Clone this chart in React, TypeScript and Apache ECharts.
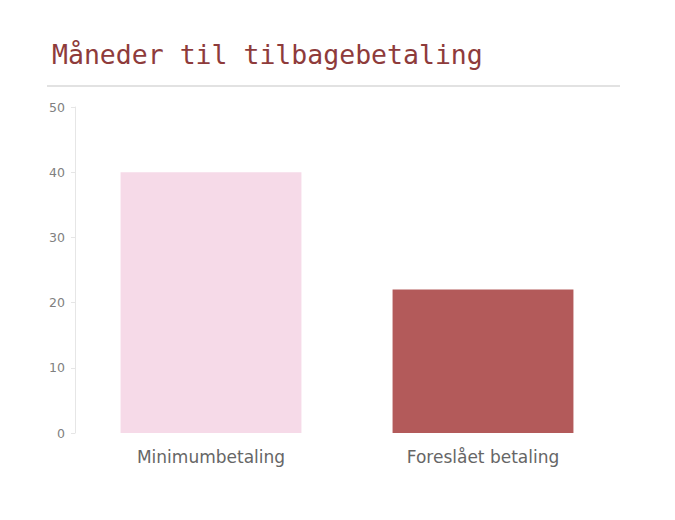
import * as echarts from 'echarts';
import { useEffect, useRef } from 'react';

const categories = ['Minimumbetaling', 'Foreslået betaling'];
const months = [40, 22];
const barColors = ['#F6DAE8', '#B35A5A'];
const yTicks = { min: 0, max: 50, interval: 10 };

export default function App() {
  const chartRef = useRef<HTMLDivElement>(null);

  useEffect(() => {
    if (!chartRef.current) return;
    const chart = echarts.init(chartRef.current, undefined, { renderer: 'svg' });

    chart.setOption({
      animation: false,
      backgroundColor: '#ffffff',
      title: {
        text: 'Måneder til tilbagebetaling',
        left: 47,
        top: 36,
        textStyle: {
          fontFamily: '"DejaVu Sans Mono", "Liberation Mono", monospace',
          fontSize: 26.5,
          fontWeight: 'normal',
          color: '#8E3B3B',
        },
      },
      graphic: [
        {
          type: 'line',
          shape: { x1: 47, y1: 86, x2: 620, y2: 86 },
          style: { stroke: '#D9D9D9', lineWidth: 1.5 },
        },
      ],
      grid: { left: 75, right: 56, top: 107, bottom: 87, containLabel: false },
      xAxis: {
        type: 'category',
        data: categories,
        axisLine: { show: false },
        axisTick: { show: false },
        axisLabel: {
          color: '#666666',
          fontSize: 17,
          margin: 15,
          fontFamily: '"DejaVu Sans", sans-serif',
        },
      },
      yAxis: {
        type: 'value',
        min: yTicks.min,
        max: yTicks.max,
        interval: yTicks.interval,
        axisLine: { show: true, lineStyle: { color: '#E6E6E6' } },
        axisTick: { show: true, length: 4, lineStyle: { color: '#E6E6E6' } },
        splitLine: { show: false },
        axisLabel: {
          color: '#808080',
          fontSize: 12.5,
          margin: 10,
          fontFamily: '"DejaVu Sans", sans-serif',
        },
      },
      series: [
        {
          type: 'bar',
          data: months.map((v, i) => ({ value: v, itemStyle: { color: barColors[i] } })),
          barCategoryGap: '33.5%',
        },
      ],
    });

    return () => chart.dispose();
  }, []);

  return (
    <div
      ref={chartRef}
      style={{ position: 'absolute', left: 0, top: 0, width: 675, height: 520 }}
    />
  );
}
